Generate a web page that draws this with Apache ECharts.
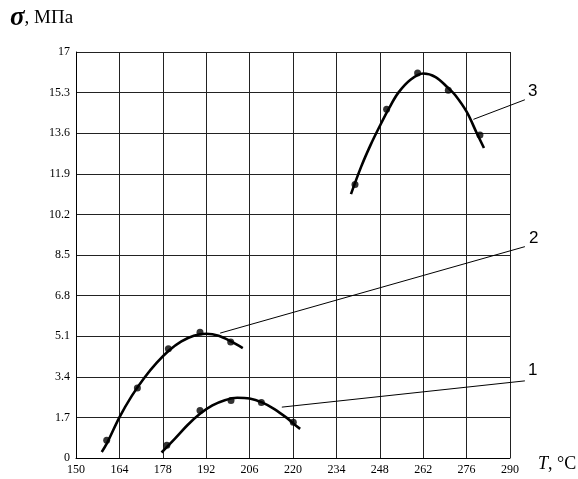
<!DOCTYPE html>
<html><head><meta charset="utf-8">
<script src="https://cdn.jsdelivr.net/npm/echarts@6/dist/echarts.min.js"></script>
<style>html,body{margin:0;padding:0;background:#fff}#c{width:578px;height:479px}</style>
</head><body><div id="c"></div>
<script>
// Axis ticks
const xMin = 150, xMax = 290, xStep = 14;
const yMin = 0, yMax = 17, yStep = 1.7;

// Curve 1 (fitted line) and its measured points
const curve1X = [177.6, 182, 186, 190, 194, 198, 202, 206, 210, 214, 218, 220, 222.3];
const curve1Y = [0.23, 0.82, 1.38, 1.85, 2.2, 2.42, 2.52, 2.49, 2.33, 2.05, 1.68, 1.46, 1.22];
const pts1X = [179.3, 190, 200, 209.8, 220.1];
const pts1Y = [0.53, 1.99, 2.41, 2.32, 1.5];

// Curve 2
const curve2X = [158.3, 160, 164, 168, 172, 176, 180, 184, 188, 192, 196, 200, 203.8];
const curve2Y = [0.25, 0.62, 1.7, 2.6, 3.35, 3.98, 4.5, 4.88, 5.12, 5.2, 5.12, 4.88, 4.6];
const pts2X = [159.9, 169.8, 179.8, 190, 199.9];
const pts2Y = [0.74, 2.93, 4.57, 5.27, 4.86];

// Curve 3
const curve3X = [238.7, 242, 245, 248, 251, 254, 258, 262, 266, 270, 272.3, 276, 279.3, 281.6];
const curve3Y = [11.05, 12.2, 13.1, 13.9, 14.65, 15.3, 15.85, 16.1, 15.95, 15.5, 15.2, 14.5, 13.6, 12.98];
const pts3X = [240, 250.2, 260.2, 270.1, 280.3];
const pts3Y = [11.45, 14.6, 16.12, 15.4, 13.52];

// Leader lines to curve numbers (data coordinates)
const lead1X = [216.4, 294.8], lead1Y = [2.13, 3.23];
const lead2X = [196.5, 294.8], lead2Y = [5.23, 8.85];
const lead3X = [278.2, 294.8], lead3Y = [14.18, 15.0];
const curveNames = ['1', '2', '3'];

const zip = (xs, ys) => xs.map((x, i) => [x, ys[i]]);
const serif = 'Liberation Serif';

function curve(xs, ys) {
  return { type: 'line', data: zip(xs, ys), smooth: 0.35, showSymbol: false, symbol: 'none',
    lineStyle: { color: '#000', width: 2.6 }, silent: true, z: 3 };
}
function pts(xs, ys) {
  return { type: 'scatter', data: zip(xs, ys), symbol: 'circle', symbolSize: 7,
    itemStyle: { color: '#000' }, z: 4, silent: true };
}

const chart = echarts.init(document.getElementById('c'), null, { renderer: 'canvas' });
const titleGraphics = [
  { type: 'text', left: 10, top: 5, style: {
    text: '{s|σ}{t|, МПа}',
    rich: { s: { fontFamily: serif, fontStyle: 'italic', fontWeight: 'bold', fontSize: 27, fill: '#000' },
            t: { fontFamily: serif, fontSize: 19, fill: '#000' } } } },
  { type: 'text', left: 538, top: 455, style: {
    text: '{s|T}{t|, °C}',
    rich: { s: { fontFamily: serif, fontStyle: 'italic', fontSize: 18, fill: '#000' },
            t: { fontFamily: serif, fontSize: 18, fill: '#000' } } } }
];
chart.setOption({
  animation: false,
  backgroundColor: '#fff',
  grid: { left: 76, right: 68, top: 52, bottom: 21, containLabel: false },
  xAxis: {
    type: 'value', min: xMin, max: xMax, interval: xStep,
    axisLine: { lineStyle: { color: '#000', width: 1 } },
    axisTick: { show: false },
    axisLabel: { color: '#000', fontFamily: serif, fontSize: 12, margin: 6, showMinLabel: true, showMaxLabel: true },
    splitLine: { show: true, lineStyle: { color: '#222', width: 1 } }
  },
  yAxis: {
    type: 'value', min: yMin, max: yMax, interval: yStep,
    axisLine: { show: true, lineStyle: { color: '#000', width: 1 } },
    axisTick: { show: false },
    axisLabel: { color: '#000', fontFamily: serif, fontSize: 12, margin: 6,
      formatter: v => String(Math.round(v * 10) / 10) },
    splitLine: { show: true, lineStyle: { color: '#222', width: 1 } }
  },
  graphic: titleGraphics,
  series: [
    curve(curve1X, curve1Y), pts(pts1X, pts1Y),
    curve(curve2X, curve2Y), pts(pts2X, pts2Y),
    curve(curve3X, curve3Y), pts(pts3X, pts3Y)
  ]
});

// Leader lines and curve numbers, positioned through the chart's own scales
const leaders = [[lead1X, lead1Y, [3, -19]], [lead2X, lead2Y, [4, -17]], [lead3X, lead3Y, [3, -17]]];
const extra = [];
leaders.forEach(([xs, ys, off], i) => {
  const a = chart.convertToPixel({ gridIndex: 0 }, [xs[0], ys[0]]);
  const b = chart.convertToPixel({ gridIndex: 0 }, [xs[1], ys[1]]);
  extra.push({ type: 'line', shape: { x1: a[0], y1: a[1], x2: b[0], y2: b[1] },
    style: { stroke: '#000', lineWidth: 1 }, z: 2, silent: true });
  extra.push({ type: 'text', x: b[0] + off[0], y: b[1] + off[1], style: {
    text: curveNames[i], fill: '#000', fontFamily: 'Liberation Sans', fontSize: 17 }, silent: true });
});
chart.setOption({ graphic: titleGraphics.concat(extra) });
</script></body></html>
